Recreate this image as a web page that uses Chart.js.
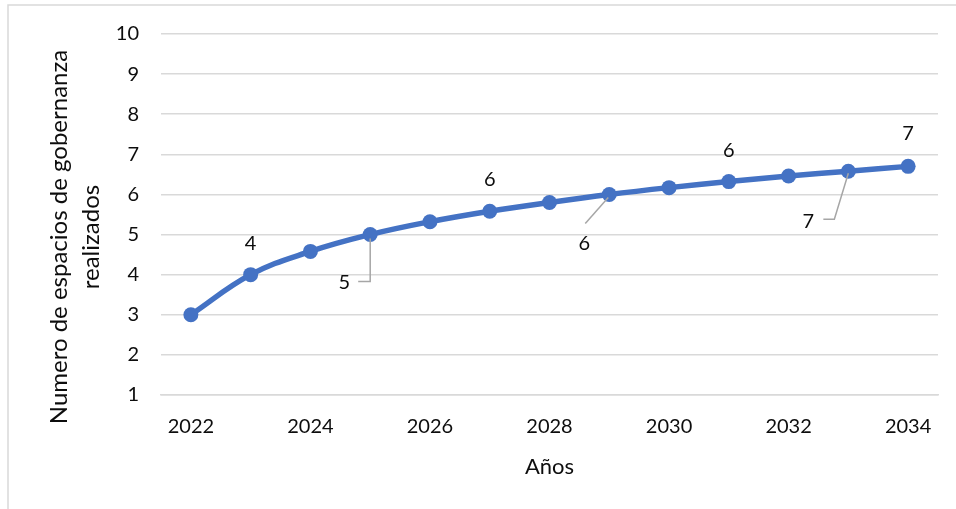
<!DOCTYPE html>
<html>
<head>
<meta charset="utf-8">
<script src="https://cdn.jsdelivr.net/npm/chart.js@4.4.0/dist/chart.umd.min.js"></script>
<style>
    html, body { margin: 0; padding: 0; background: #fff; }
    #wrap { width: 956px; height: 509px; position: relative; }
</style>
</head>
<body>
<div id="wrap"><canvas id="lineChart" width="956" height="509"></canvas></div>
<script>
    // Data
    var years = ['2022', '2023', '2024', '2025', '2026', '2027', '2028', '2029', '2030', '2031', '2032', '2033', '2034'];
    var espacios = [3, 4, 4.58, 5, 5.32, 5.58, 5.8, 6, 6.17, 6.32, 6.46, 6.58, 6.7];
    var yTicks = [1, 2, 3, 4, 5, 6, 7, 8, 9, 10];
    var labeledPoints = [1, 3, 5, 7, 9, 11, 12];
    var yTitle = ['Numero de espacios de gobernanza', 'realizados'];
    var xTitle = 'Años';

    var FONT = 'Lato, "Open Sans", sans-serif';
    var TEXT = '#0d0d0d';
    var GRID = '#d9d9d9';
    var BLUE = '#4472C4';

    // where each data label sits (offset from its point) and its leader line, if any
    var labelPlacement = {
        1:  { dx: 0,   dy: -31 },
        3:  { dx: -26, dy: 48, leader: [[0, 4], [0, 47], [-12, 47]] },
        5:  { dx: 0,   dy: -32 },
        7:  { dx: -25, dy: 49, leader: [[-1, 3], [-24, 29]] },
        9:  { dx: 0,   dy: -31 },
        11: { dx: -40, dy: 50, leader: [[0, 2], [-14, 48], [-25, 48]] },
        12: { dx: 0,   dy: -33 }
    };

    var decorPlugin = {
        id: 'decor',
        beforeDraw: function (chart) {
            var ctx = chart.ctx;
            // outer frame (top and left edges visible)
            ctx.save();
            ctx.strokeStyle = GRID;
            ctx.lineWidth = 1.5;
            ctx.beginPath();
            ctx.moveTo(8, chart.height);
            ctx.lineTo(8, 5);
            ctx.lineTo(chart.width, 5);
            ctx.stroke();
            ctx.restore();
        },
        afterDatasetsDraw: function (chart) {
            var ctx = chart.ctx;
            var meta = chart.getDatasetMeta(0);
            ctx.save();
            ctx.font = '20px ' + FONT;
            ctx.textAlign = 'center';
            ctx.textBaseline = 'middle';
            labeledPoints.forEach(function (i) {
                var pt = meta.data[i];
                var p = labelPlacement[i];
                if (p.leader) {
                    ctx.strokeStyle = '#a6a6a6';
                    ctx.lineWidth = 1.5;
                    ctx.beginPath();
                    p.leader.forEach(function (l, k) {
                        if (k === 0) ctx.moveTo(pt.x + l[0], pt.y + l[1]);
                        else ctx.lineTo(pt.x + l[0], pt.y + l[1]);
                    });
                    ctx.stroke();
                }
                ctx.fillStyle = TEXT;
                ctx.fillText(String(Math.round(espacios[i])), pt.x + p.dx, pt.y + p.dy);
            });
            ctx.restore();

            // y axis title, two lines, rotated
            ctx.save();
            ctx.font = '24px ' + FONT;
            ctx.fillStyle = TEXT;
            ctx.textAlign = 'center';
            ctx.textBaseline = 'middle';
            ctx.translate(59, 237);
            ctx.rotate(-Math.PI / 2);
            yTitle.forEach(function (line, k) {
                ctx.fillText(line, 0, k * 32);
            });
            ctx.restore();
        }
    };

    var ctx = document.getElementById('lineChart').getContext('2d');
    var lineChart = new Chart(ctx, {
        type: 'line',
        data: {
            labels: years,
            datasets: [{
                data: espacios,
                borderColor: BLUE,
                backgroundColor: BLUE,
                borderWidth: 5.5,
                tension: 0.4,
                pointRadius: 7.5,
                pointBorderWidth: 0,
                pointBackgroundColor: BLUE,
                fill: false
            }]
        },
        options: {
            responsive: false,
            animation: false,
            layout: {
                padding: { top: 34, right: 18, bottom: 0, left: 0 }
            },
            plugins: {
                legend: { display: false },
                tooltip: { enabled: false }
            },
            scales: {
                x: {
                    offset: true,
                    grid: { display: false, drawTicks: false },
                    border: { display: true, color: GRID, width: 1.5 },
                    ticks: {
                        autoSkip: false,
                        maxRotation: 0,
                        padding: 20,
                        color: TEXT,
                        font: { family: FONT, size: 20 },
                        callback: function (val, index) {
                            return index % 2 === 0 ? years[index] : '';
                        }
                    },
                    title: {
                        display: true,
                        text: xTitle,
                        color: TEXT,
                        font: { family: FONT, size: 22 },
                        padding: { top: 0, bottom: 29 }
                    },
                    afterFit: function (scale) { scale.height = 114; }
                },
                y: {
                    min: yTicks[0],
                    max: yTicks[yTicks.length - 1],
                    grid: { color: GRID, lineWidth: 1.5, drawTicks: false },
                    border: { display: false },
                    ticks: {
                        stepSize: 1,
                        padding: 22,
                        color: TEXT,
                        font: { family: FONT, size: 20 }
                    },
                    afterFit: function (scale) { scale.width = 161; }
                }
            }
        },
        plugins: [decorPlugin]
    });
</script>
</body>
</html>
